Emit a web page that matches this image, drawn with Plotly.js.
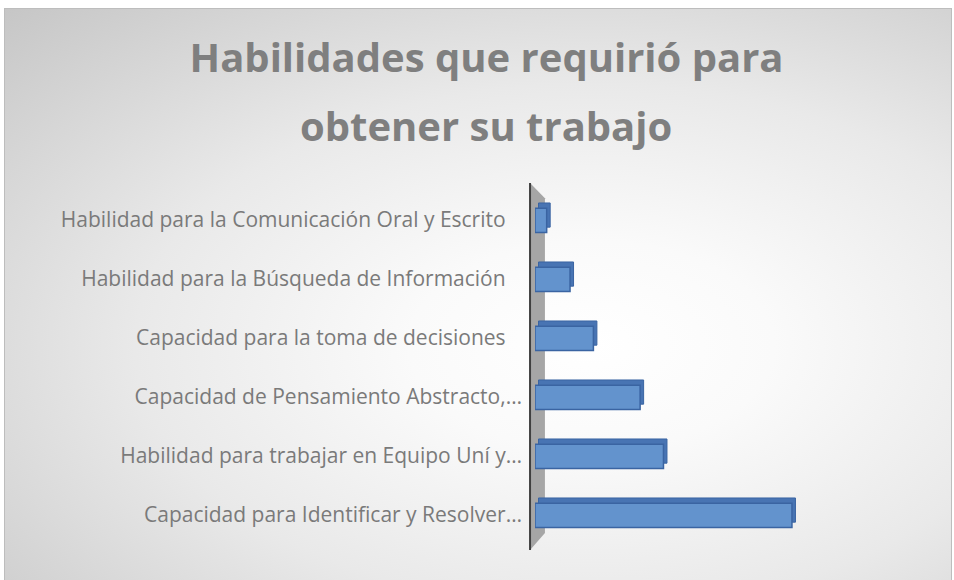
<!DOCTYPE html>
<html>
<head>
<meta charset="utf-8">
<script src="https://cdn.plot.ly/plotly-3.0.1.min.js"></script>
<style>
  body { margin: 0; width: 954px; height: 580px; overflow: hidden; background: #ffffff; }
  #bg {
    position: absolute; left: 4px; top: 8px; width: 946px; height: 580px;
    border: 1px solid #bdbdbd;
    background: radial-gradient(ellipse farthest-corner at 62% 58%, #ffffff 0%, #fafafa 22%, #e9e9e9 55%, #c6c6c6 100%);
  }
  #chart { position: absolute; left: 0; top: 0; width: 954px; height: 580px; }
</style>
</head>
<body>
<div id="bg"></div>
<div id="chart"></div>
<script>
// categories from bottom to top, as in the chart
var skills = [
  "Capacidad para Identificar y Resolver…",
  "Habilidad para trabajar en Equipo Uní y…",
  "Capacidad de Pensamiento Abstracto,…",
  "Capacidad para la toma de decisiones\u00a0\u00a0\u00a0",
  "Habilidad para la Búsqueda de Información\u00a0\u00a0\u00a0",
  "Habilidad para la Comunicación Oral y Escrito\u00a0\u00a0\u00a0"
];
var counts = [22, 11, 9, 5, 3, 1];

// back face of the 3D bars (gives the top / side depth)
var depth = {
  type: "bar",
  orientation: "h",
  y: skills,
  x: counts,
  base: 0.3,
  width: 0.41,
  offset: -0.13,
  marker: { color: "#4874b3", line: { color: "#3a64a2", width: 1 } },
  hoverinfo: "skip"
};

var front = {
  type: "bar",
  orientation: "h",
  y: skills,
  x: counts,
  width: 0.41,
  offset: -0.22,
  marker: { color: "#6393cd", line: { color: "#3a64a2", width: 1.5 } },
  hoverinfo: "x+y"
};

var layout = {
  width: 954,
  height: 580,
  margin: { l: 535, r: 127, t: 190, b: 36 },
  paper_bgcolor: "rgba(0,0,0,0)",
  plot_bgcolor: "rgba(0,0,0,0)",
  showlegend: false,
  barmode: "overlay",
  title: {
    text: "Habilidades que requirió para",
    font: { family: "Open Sans", size: 40, color: "#7f7f7f", weight: "bold" },
    x: 0.51, xanchor: "center",
    y: 0.9, yanchor: "middle"
  },
  annotations: [{
    text: "obtener su trabajo",
    xref: "paper", yref: "paper", x: -0.168, y: 1.181,
    xanchor: "center", yanchor: "middle", showarrow: false,
    font: { family: "Open Sans", size: 40, color: "#7f7f7f", weight: "bold" }
  }],
  xaxis: {
    range: [0, 25],
    visible: false,
    fixedrange: true
  },
  yaxis: {
    type: "category",
    showgrid: false,
    zeroline: false,
    showline: false,
    ticks: "",
    ticklabelstandoff: 12,
    tickfont: { family: "Open Sans", size: 21, color: "#7a7a7a" },
    fixedrange: true
  },
  shapes: [
    {
      type: "path", xref: "paper", yref: "paper", layer: "below",
      path: "M -0.017,1.02 L 0.034,0.977 L 0.034,0.031 L -0.017,-0.017 Z",
      fillcolor: "#a6a6a6", line: { width: 0 }
    },
    {
      type: "line", xref: "paper", yref: "paper", layer: "below",
      x0: -0.017, x1: -0.017, y0: -0.017, y1: 1.02,
      line: { color: "#404040", width: 2 }
    }
  ]
};

Plotly.newPlot("chart", [depth, front], layout, { displayModeBar: false, staticPlot: true });
</script>
</body>
</html>
